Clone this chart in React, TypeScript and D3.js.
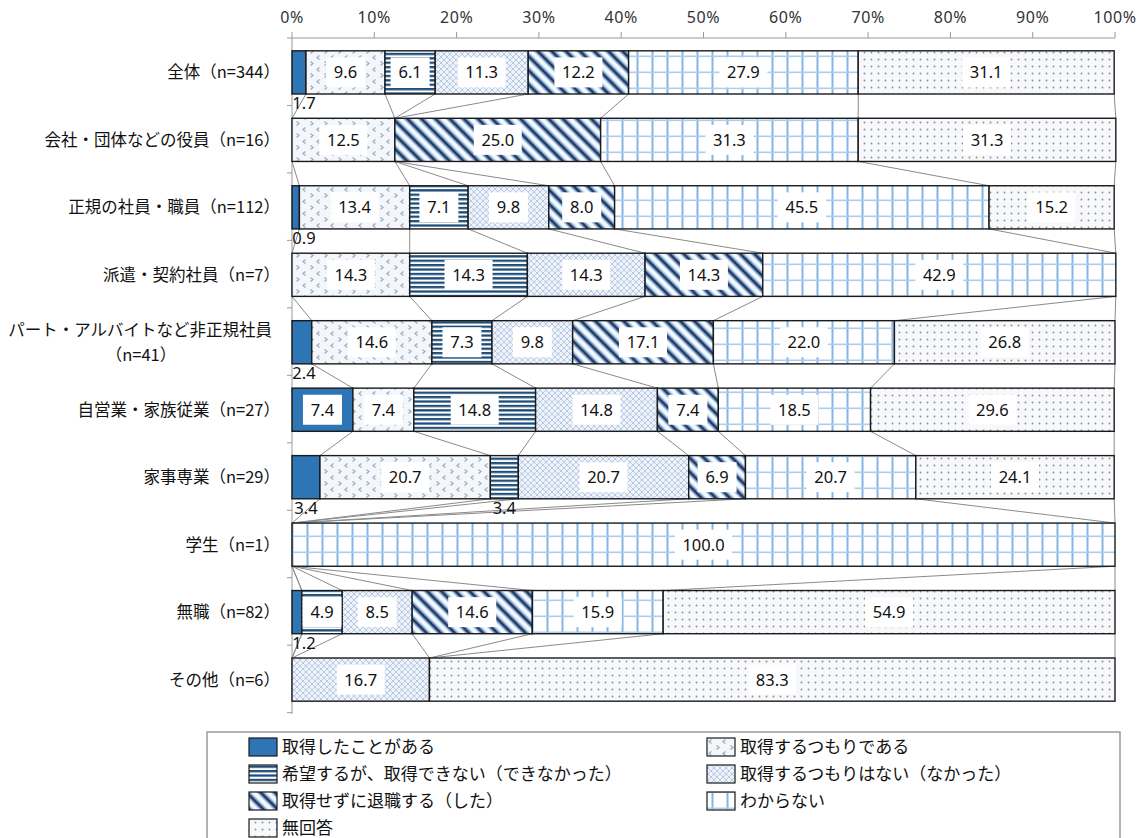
import React from 'react';
import * as d3 from 'd3';

const categories = [
  ['全体（n=344）'],
  ['会社・団体などの役員（n=16）'],
  ['正規の社員・職員（n=112）'],
  ['派遣・契約社員（n=7）'],
  ['パート・アルバイトなど非正規社員', '（n=41）'],
  ['自営業・家族従業（n=27）'],
  ['家事専業（n=29）'],
  ['学生（n=1）'],
  ['無職（n=82）'],
  ['その他（n=6）'],
];

const seriesNames = [
  '取得したことがある',
  '取得するつもりである',
  '希望するが、取得できない（できなかった）',
  '取得するつもりはない（なかった）',
  '取得せずに退職する（した）',
  'わからない',
  '無回答',
];

const hadAcquired = [1.7, 0, 0.9, 0, 2.4, 7.4, 3.4, 0, 1.2, 0];
const intendTo = [9.6, 12.5, 13.4, 14.3, 14.6, 7.4, 20.7, 0, 0, 0];
const wantButCannot = [6.1, 0, 7.1, 14.3, 7.3, 14.8, 3.4, 0, 4.9, 0];
const notIntend = [11.3, 0, 9.8, 14.3, 9.8, 14.8, 20.7, 0, 8.5, 16.7];
const quitWithout = [12.2, 25.0, 8.0, 14.3, 17.1, 7.4, 6.9, 0, 14.6, 0];
const dontKnow = [27.9, 31.3, 45.5, 42.9, 22.0, 18.5, 20.7, 100.0, 15.9, 0];
const noAnswer = [31.1, 31.3, 15.2, 0, 26.8, 29.6, 24.1, 0, 54.9, 83.3];

const seriesValues = [hadAcquired, intendTo, wantButCannot, notIntend, quitWithout, dontKnow, noAnswer];
const xTicks = [0, 10, 20, 30, 40, 50, 60, 70, 80, 90, 100];

const fills = ['#2e75b6', 'url(#p1)', 'url(#p2)', 'url(#p3)', 'url(#p4)', 'url(#p5)', 'url(#p6)'];

const W = 1142;
const H = 838;
const numFont = '"Noto Sans", "DejaVu Sans", sans-serif';
const jpFont = '"Noto Sans CJK JP", sans-serif';

const x = d3.scaleLinear().domain([0, 100]).range([292, 1115]);
const y = d3.scaleBand<number>()
  .domain(d3.range(categories.length))
  .range([38, 714])
  .paddingInner(0.36)
  .paddingOuter(0.19);

const stackRows = categories.map((_, i) => {
  const obj: Record<string, number> = {};
  seriesValues.forEach((s, k) => (obj['s' + k] = s[i]));
  return obj;
});
const stacked = d3.stack<Record<string, number>>()
  .keys(seriesValues.map((_, k) => 's' + k))(stackRows);

function Patterns() {
  return (
    <defs>
      <pattern id="p1" width="14" height="12" patternUnits="userSpaceOnUse">
        <rect width="14" height="12" fill="#f3f7fb" />
        <path d="M2.5,1.5 L5,3.5 L2.5,5.5" fill="none" stroke="#a3acbb" strokeWidth="1.3" />
        <path d="M11.5,7.5 L9,9.5 L11.5,11.5" fill="none" stroke="#a3acbb" strokeWidth="1.3" />
      </pattern>
      <pattern id="p2" width="8" height="4.4" patternUnits="userSpaceOnUse">
        <rect width="8" height="4.4" fill="#ffffff" />
        <rect width="8" height="2.3" fill="#1f4e79" />
      </pattern>
      <pattern id="p3" width="6" height="6" patternUnits="userSpaceOnUse">
        <rect width="6" height="6" fill="#eef2f9" />
        <path d="M0,0 L6,6 M6,0 L0,6" stroke="#b8c9e6" strokeWidth="1" />
      </pattern>
      <pattern id="p4" width="10" height="10" patternUnits="userSpaceOnUse" patternTransform="rotate(-45)">
        <rect width="10" height="10" fill="#f4f8ff" />
        <rect x="1" width="1.5" height="10" fill="#9dc3e6" />
        <rect x="2.5" width="3.2" height="10" fill="#203864" />
        <rect x="5.7" width="1.5" height="10" fill="#9dc3e6" />
      </pattern>
      <pattern id="p5" width="15" height="16" patternUnits="userSpaceOnUse">
        <rect width="15" height="16" fill="#ffffff" />
        <rect x="6.5" width="2" height="16" fill="#86b5e4" />
        <rect y="7.5" width="15" height="1.6" fill="#aecdee" />
      </pattern>
      <pattern id="p6" width="7" height="7" patternUnits="userSpaceOnUse">
        <rect width="7" height="7" fill="#f6f8fb" />
        <circle cx="3.5" cy="3.5" r="0.9" fill="#8d8d8d" />
      </pattern>
    </defs>
  );
}

export default function App() {
  const bw = y.bandwidth();
  const cum = categories.map((_, i) => stacked.map(layer => layer[i][1]));

  return (
    <svg width={W} height={H} style={{ position: 'absolute', left: 0, top: 0, background: '#fff' }}>
      <Patterns />

      {/* top axis */}
      <line x1={x(0)} x2={x(100)} y1={38} y2={38} stroke="#9a9a9a" />
      {xTicks.map(t => (
        <g key={t}>
          <line x1={x(t)} x2={x(t)} y1={32} y2={38} stroke="#9a9a9a" />
          <text x={x(t)} y={23} textAnchor="middle" fontFamily={numFont} fontSize={16}
            letterSpacing={0.6} fill="#333">{t}%</text>
        </g>
      ))}

      {/* left axis */}
      <line x1={x(0)} x2={x(0)} y1={38} y2={714} stroke="#9a9a9a" />
      {d3.range(categories.length + 1).map(k => {
        const yy = 38 + k * y.step();
        return <line key={k} x1={287} x2={x(0)} y1={yy} y2={yy} stroke="#9a9a9a" />;
      })}

      {/* connector lines */}
      {categories.slice(0, -1).map((_, i) =>
        cum[i].map((v, k) => (
          <line key={i + '-' + k}
            x1={x(v)} y1={(y(i) as number) + bw}
            x2={x(cum[i + 1][k])} y2={y(i + 1) as number}
            stroke="#8a8a8a" strokeWidth={1} />
        ))
      )}

      {/* bars */}
      {stacked.map((layer, k) =>
        layer.map((d, i) => {
          if (d[1] - d[0] <= 0) return null;
          return (
            <rect key={k + '-' + i}
              x={x(d[0])} y={y(i)} width={x(d[1]) - x(d[0])} height={bw}
              fill={fills[k]} stroke="#1a1a1a" strokeWidth={1.4} />
          );
        })
      )}

      {/* value labels */}
      {stacked.map((layer, k) =>
        layer.map((d, i) => {
          const v = d[1] - d[0];
          if (v <= 0) return null;
          const label = v.toFixed(1);
          const cx = (x(d[0]) + x(d[1])) / 2;
          const cy = (y(i) as number) + bw / 2;
          if (v < 4) {
            const lx = Math.max(cx, x(d[0]) + 12);
            return (
              <text key={k + '-' + i} x={lx} y={(y(i) as number) + bw + 15} textAnchor="middle"
                fontFamily={numFont} fontSize={16.5} fill="#111">{label}</text>
            );
          }
          const tw = label.length * 9 + 12;
          return (
            <g key={k + '-' + i}>
              <rect x={cx - tw / 2} y={cy - 15} width={tw} height={30} fill="#fff" />
              <text x={cx} y={cy + 6} textAnchor="middle" fontFamily={numFont} fontSize={16.5} fill="#111">{label}</text>
            </g>
          );
        })
      )}

      {/* category labels */}
      {categories.map((lines, i) => {
        const cy = (y(i) as number) + bw / 2;
        if (lines.length === 1) {
          return (
            <text key={i} x={280} y={cy + 6} textAnchor="end" fontFamily={jpFont} fontSize={16.5} fill="#111">{lines[0]}</text>
          );
        }
        return (
          <g key={i}>
            <text x={272} y={cy - 6} textAnchor="end" fontFamily={jpFont} fontSize={16.5} fill="#111">{lines[0]}</text>
            <text x={141} y={cy + 19} textAnchor="middle" fontFamily={jpFont} fontSize={16.5} fill="#111">{lines[1]}</text>
          </g>
        );
      })}

      {/* legend */}
      <rect x={207} y={732} width={913} height={130} fill="none" stroke="#9a9a9a" strokeWidth={1.5} />
      {seriesNames.map((name, k) => {
        const order = [0, 4, 1, 5, 2, 6, 3];
        const pos = order[k];
        const col = pos < 4 ? 0 : 1;
        const row = col === 0 ? pos : pos - 4;
        const lx = col === 0 ? 249 : 707;
        const ly = 747 + row * 27;
        return (
          <g key={name}>
            <rect x={lx} y={ly - 9} width={28} height={18} fill={fills[k]} stroke="#1a1a1a" strokeWidth={1.2} />
            <text x={lx + 33} y={ly + 6} fontFamily={jpFont} fontSize={17} fill="#111">{name}</text>
          </g>
        );
      })}
    </svg>
  );
}
